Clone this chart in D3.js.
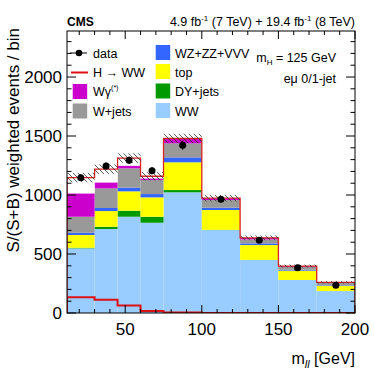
<!DOCTYPE html>
<html><head><meta charset="utf-8">
<script src="https://cdn.jsdelivr.net/npm/d3@7"></script>
<style>html,body{margin:0;padding:0;background:#fff;}svg{display:block;font-family:"Liberation Sans",Arial,sans-serif;}</style>
</head><body>
<script>
// ---- data ----
const binEdges = [12, 30, 45, 60, 75, 100, 125, 150, 175, 200];
const ww      = [548, 712, 816, 765, 1023, 703, 449, 280, 186];
const dyjets  = [5, 19, 51, 51, 19, 2, 1, 0, 0];
const topq    = [108, 133, 164, 164, 235, 168, 126, 79, 46];
const wzzz    = [19, 26, 31, 28, 42, 19, 14, 7, 5];
const wjets   = [136, 166, 164, 119, 119, 66, 34, 26, 17];
const wgamma  = [198, 51, 23, 14, 37, 14, 12, 6, 6];
const signal  = [134, 112, 64, 18, 4, 1, 1, 0, 0];
const dataVals = [1147, 1246, 1294, 1206, 1421, 963, 616, 384, 235];
const dataErr  = [28, 30, 32, 30, 38, 25, 18, 12, 10];
const bkgUnc   = [40, 40, 40, 35, 40, 28, 20, 12, 10];
const yTicks = [0, 500, 1000, 1500, 2000];
const xTicks = [50, 100, 150, 200];

const W = 374, H = 392;
const L = 67, R = 355, T = 31, B = 313;
const svg = d3.select("body").append("svg").attr("width", W).attr("height", H);
const x = d3.scaleLinear().domain([12, 200]).range([L, R]);
const y = d3.scaleLinear().domain([0, 2390]).range([B, T]);

const defs = svg.append("defs");
const pat = defs.append("pattern").attr("id","hatch").attr("patternUnits","userSpaceOnUse")
  .attr("width",5).attr("height",5);
pat.append("path").attr("d","M-1,-1 L6,6 M-1,4 L1,6 M4,-1 L6,1").attr("stroke","#333").attr("stroke-width",0.8);
defs.append("clipPath").attr("id","clip").append("rect").attr("x",L).attr("y",T).attr("width",R-L).attr("height",B-T);

const series = [
  {name:"WW", vals:ww, color:"#99ccff"},
  {name:"DY+jets", vals:dyjets, color:"#009900"},
  {name:"top", vals:topq, color:"#ffff00"},
  {name:"WZ+ZZ+VVV", vals:wzzz, color:"#3366ff"},
  {name:"W+jets", vals:wjets, color:"#999999"},
  {name:"Wg", vals:wgamma, color:"#cc00cc"},
  {name:"H", vals:signal, color:"#ffffff"}
];
const nb = binEdges.length - 1;
const g = svg.append("g").attr("clip-path","url(#clip)");
const cum = new Array(nb).fill(0);
series.forEach(s => {
  for (let i = 0; i < nb; i++) {
    const y0 = cum[i], y1 = cum[i] + s.vals[i];
    g.append("rect").attr("x", x(binEdges[i])).attr("width", x(binEdges[i+1]) - x(binEdges[i]))
      .attr("y", y(y1)).attr("height", Math.max(0, y(y0) - y(y1))).attr("fill", s.color);
    cum[i] = y1;
  }
});
// stacked signal outline
let p = "M" + x(binEdges[0]) + "," + y(0);
for (let i = 0; i < nb; i++) {
  p += " L" + x(binEdges[i]) + "," + y(cum[i]) + " L" + x(binEdges[i+1]) + "," + y(cum[i]);
}
p += " L" + x(binEdges[nb]) + "," + y(0);
g.append("path").attr("d", p).attr("fill","none").attr("stroke","#dd2222").attr("stroke-width",1.3);
// uncertainty hatch
for (let i = 0; i < nb; i++) {
  g.append("rect").attr("x", x(binEdges[i])).attr("width", x(binEdges[i+1]) - x(binEdges[i]))
    .attr("y", y(cum[i] + bkgUnc[i])).attr("height", y(cum[i] - bkgUnc[i]) - y(cum[i] + bkgUnc[i]))
    .attr("fill","url(#hatch)");
}
// signal alone
let ps = "M" + x(binEdges[0]) + "," + y(0);
for (let i = 0; i < nb; i++) {
  ps += " L" + x(binEdges[i]) + "," + y(signal[i]) + " L" + x(binEdges[i+1]) + "," + y(signal[i]);
}
ps += " L" + x(binEdges[nb]) + "," + y(0);
g.append("path").attr("d", ps).attr("fill","none").attr("stroke","#dd1111").attr("stroke-width",2);

// data
for (let i = 0; i < nb; i++) {
  const cx = x((binEdges[i] + binEdges[i+1]) / 2);
  svg.append("line").attr("x1",cx).attr("x2",cx).attr("y1",y(dataVals[i]-dataErr[i])).attr("y2",y(dataVals[i]+dataErr[i]))
    .attr("stroke","#000").attr("stroke-width",1);
  svg.append("circle").attr("cx",cx).attr("cy",y(dataVals[i])).attr("r",3.5).attr("fill","#000");
}

// frame & ticks
svg.append("rect").attr("x",L).attr("y",T).attr("width",R-L).attr("height",B-T).attr("fill","none").attr("stroke","#000").attr("stroke-width",1);
const tk = svg.append("g").attr("stroke","#000").attr("stroke-width",1);
d3.range(20, 201, 10).forEach(v => {
  const major = v % 50 === 0; const len = major ? 8 : 4; const xx = x(v);
  tk.append("line").attr("x1",xx).attr("x2",xx).attr("y1",B).attr("y2",B-len);
  tk.append("line").attr("x1",xx).attr("x2",xx).attr("y1",T).attr("y2",T+len);
});
d3.range(0, 2390, 100).forEach(v => {
  const major = v % 500 === 0; const len = major ? 9 : 4.5; const yy = y(v);
  tk.append("line").attr("x1",L).attr("x2",L+len).attr("y1",yy).attr("y2",yy);
  tk.append("line").attr("x1",R).attr("x2",R-len).attr("y1",yy).attr("y2",yy);
});
yTicks.forEach(v => svg.append("text").attr("x",62).attr("y",y(v)+6).attr("text-anchor","end")
  .attr("font-size",17).text(v));
xTicks.forEach(v => svg.append("text").attr("x",x(v)).attr("y",335).attr("text-anchor","middle")
  .attr("font-size",17).text(v));

// titles
const xt = svg.append("text").attr("x",R).attr("y",364).attr("text-anchor","end").attr("font-size",16);
xt.append("tspan").text("m");
xt.append("tspan").attr("font-size",11).attr("dy",4).attr("font-style","italic").text("ll");
xt.append("tspan").attr("dy",-4).text(" [GeV]");
svg.append("text").attr("transform","translate(19,28) rotate(-90)").attr("text-anchor","end")
  .attr("font-size",17).text("S/(S+B) weighted events / bin");
svg.append("text").attr("x",L).attr("y",26).attr("font-weight","bold").attr("font-size",12).text("CMS");
const hd = svg.append("text").attr("x",R).attr("y",26).attr("text-anchor","end").attr("font-size",12.5);
hd.append("tspan").text("4.9 fb");
hd.append("tspan").attr("font-size",8).attr("dy",-5).text("-1");
hd.append("tspan").attr("dy",5).text(" (7 TeV) + 19.4 fb");
hd.append("tspan").attr("font-size",8).attr("dy",-5).text("-1");
hd.append("tspan").attr("dy",5).text(" (8 TeV)");

const mh = svg.append("text").attr("x",336).attr("y",62).attr("text-anchor","end").attr("font-size",12.5);
mh.append("tspan").text("m");
mh.append("tspan").attr("font-size",8).attr("dy",3).text("H");
mh.append("tspan").attr("dy",-3).text(" = 125 GeV");
svg.append("text").attr("x",336).attr("y",83).attr("text-anchor","end").attr("font-size",12.5).text("eμ 0/1-jet");

// legend
const lg = svg.append("g");
const rowY = [53, 72.5, 91.5, 111];
lg.append("line").attr("x1",70).attr("x2",87).attr("y1",rowY[0]).attr("y2",rowY[0]).attr("stroke","#000");
lg.append("circle").attr("cx",79).attr("cy",rowY[0]).attr("r",3.3).attr("fill","#000");
lg.append("line").attr("x1",71).attr("x2",88).attr("y1",rowY[1]).attr("y2",rowY[1]).attr("stroke","#dd1111").attr("stroke-width",2);
const box = (bx, by, c) => lg.append("rect").attr("x",bx).attr("y",by-7.5).attr("width",14.5).attr("height",15).attr("fill",c);
box(72.7, rowY[2], "#cc00cc"); box(72.7, rowY[3], "#999999");
box(155.7, rowY[0]-0.5, "#3366ff"); box(155.7, rowY[1]-1, "#ffff00"); box(155.7, rowY[2]-0.5, "#009900"); box(155.7, rowY[3]-0.5, "#99ccff");
const lt = (tx, ty) => lg.append("text").attr("x",tx).attr("y",ty+4.5).attr("font-size",12.5);
lt(93, rowY[0]).text("data");
lt(93, rowY[1]).text("H → WW");
const wgt = lt(93, rowY[2]); wgt.append("tspan").text("Wγ"); wgt.append("tspan").attr("font-size",7).attr("dy",-6).text("(*)");
lt(93, rowY[3]).text("W+jets");
lt(175, rowY[0]).text("WZ+ZZ+VVV");
lt(175, rowY[1]).text("top");
lt(175, rowY[2]).text("DY+jets");
lt(175, rowY[3]).text("WW");
</script>
</body></html>
